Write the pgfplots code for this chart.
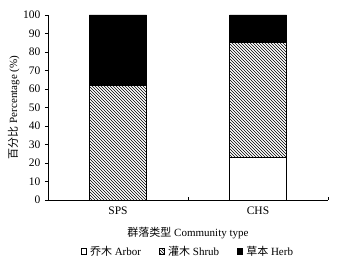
\documentclass[border=0pt]{standalone}
\usepackage{fontspec}
\setmainfont{Liberation Serif}
\newfontfamily\cjk{Noto Sans CJK SC}
\usepackage{pgfplots}
\pgfplotsset{compat=1.18}
\usetikzlibrary{patterns}
\begin{document}
\begin{tikzpicture}
\begin{axis}[
  name=ax,
  scale only axis,
  width=280pt, height=185pt,
  xmin=0, xmax=2, ymin=0, ymax=100,
  ybar stacked,
  bar width=57pt,
  axis x line*=bottom, axis y line*=left,
  axis line style={black, line width=0.6pt},
  xtick={0,1,2},
  xticklabels={SPS,CHS},
  x tick label as interval,
  x tick style={black, line width=0.5pt},
  xtick align=inside,
  ytick={0,10,...,100},
  ytick align=outside,
  y tick style={black, line width=0.5pt},
  major tick length=3pt,
  /pgf/number format/assume math mode=true,
  tick label style={font=\fontsize{11.5}{12}\selectfont},
  yticklabel style={xshift=-1pt},
  xticklabel style={yshift=-3pt},
  ylabel={{\cjk 百分比} Percentage (\%)},
  xlabel={{\cjk 群落类型} Community type},
  label style={font=\fontsize{11}{12}\selectfont},
  ylabel style={at={(rel axis cs:0,0.5)}, anchor=south, yshift=25pt},
  xlabel style={yshift=-6pt},
  legend style={draw=none, at={(0.5,-0.225)}, anchor=north, legend columns=3,
    font=\fontsize{11}{12}\selectfont,
    /tikz/every odd column/.append style={column sep=1.5pt},
    /tikz/every even column/.append style={column sep=16pt}},
  legend image code/.code={\draw[#1, line width=0.4pt] (0pt,-2.6pt) rectangle (5.2pt,2.6pt);},
]
\addplot[draw=black, fill=white, line width=0.6pt] coordinates {(0.5,0) (1.5,23)};
\addplot[draw=black, pattern=north west lines, pattern color=black, line width=0.6pt] coordinates {(0.5,62) (1.5,62.5)};
\addplot[draw=black, fill=black, line width=0.6pt] coordinates {(0.5,38) (1.5,14.5)};
\legend{{\cjk 乔木} Arbor, {\cjk 灌木} Shrub, {\cjk 草本} Herb}
\end{axis}
\pgfresetboundingbox
\path (ax.south west) ++(-48pt,-64pt) rectangle ++(340pt,264pt);
\end{tikzpicture}
\end{document}
